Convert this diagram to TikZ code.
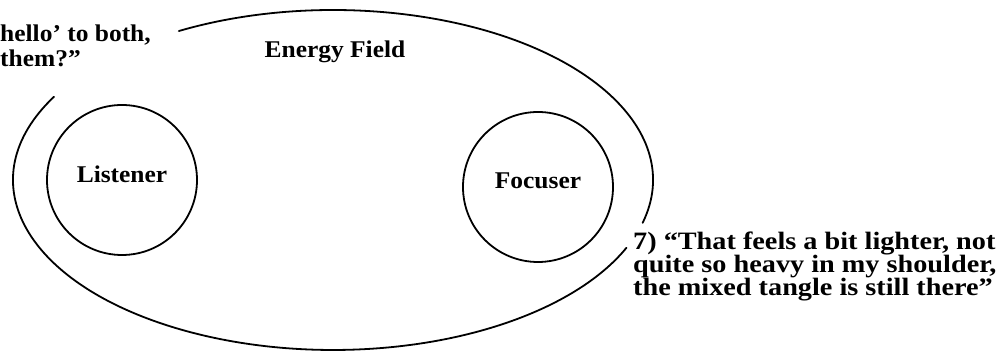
\documentclass[tikz,border=0pt]{standalone}
\usepackage{fontspec}
\setmainfont[FakeStretch=1.06]{Liberation Serif}
\newfontfamily\quotefont[FakeStretch=1.13]{Liberation Serif}
\usetikzlibrary{positioning}
\tikzset{
  person/.style={circle, draw, line width=1.8pt, minimum size=150pt, inner sep=0pt, text depth=12pt, font=\bfseries\fontsize{24}{24}\selectfont},
  fieldname/.style={font=\bfseries\fontsize{24}{24}\selectfont, inner sep=0pt},
  quote/.style={align=left, inner sep=0pt, font=\bfseries\fontsize{24}{25}\selectfont},
  bigquote/.style={align=left, inner sep=0pt, font=\quotefont\bfseries\fontsize{25}{23}\selectfont},
  fieldline/.style={line width=1.8pt, line cap=round}
}

\begin{document}
\begin{tikzpicture}[x=1pt,y=1pt]
  \useasboundingbox (0,0) rectangle (999,352);

  % energy field, open at two places for the quotes
  \coordinate (fc) at (333,172);
  \draw[fieldline] (fc) ++(-14.6:320 and 170) arc[start angle=-14.6, end angle=118.8, x radius=320, y radius=170];
  \draw[fieldline] (fc) ++(150.7:320 and 170) arc[start angle=150.7, end angle=336.5, x radius=320, y radius=170];
  \node[fieldname, anchor=base] (field) at (335,294) {Energy Field};

  \node[person] (listener) at (122,172) {Listener};
  \node[person] (focuser) at (538,165) {Focuser};

  % base of a multi-line node is its last line
  \node[quote, anchor=base west] (q1) at (0,285) {hello’ to both,\\them?”};
  \node[bigquote, anchor=base west] (q7) at (633,56) {7) “That feels a bit lighter, not\\quite so heavy in my shoulder,\\the mixed tangle is still there”};
\end{tikzpicture}
\end{document}
